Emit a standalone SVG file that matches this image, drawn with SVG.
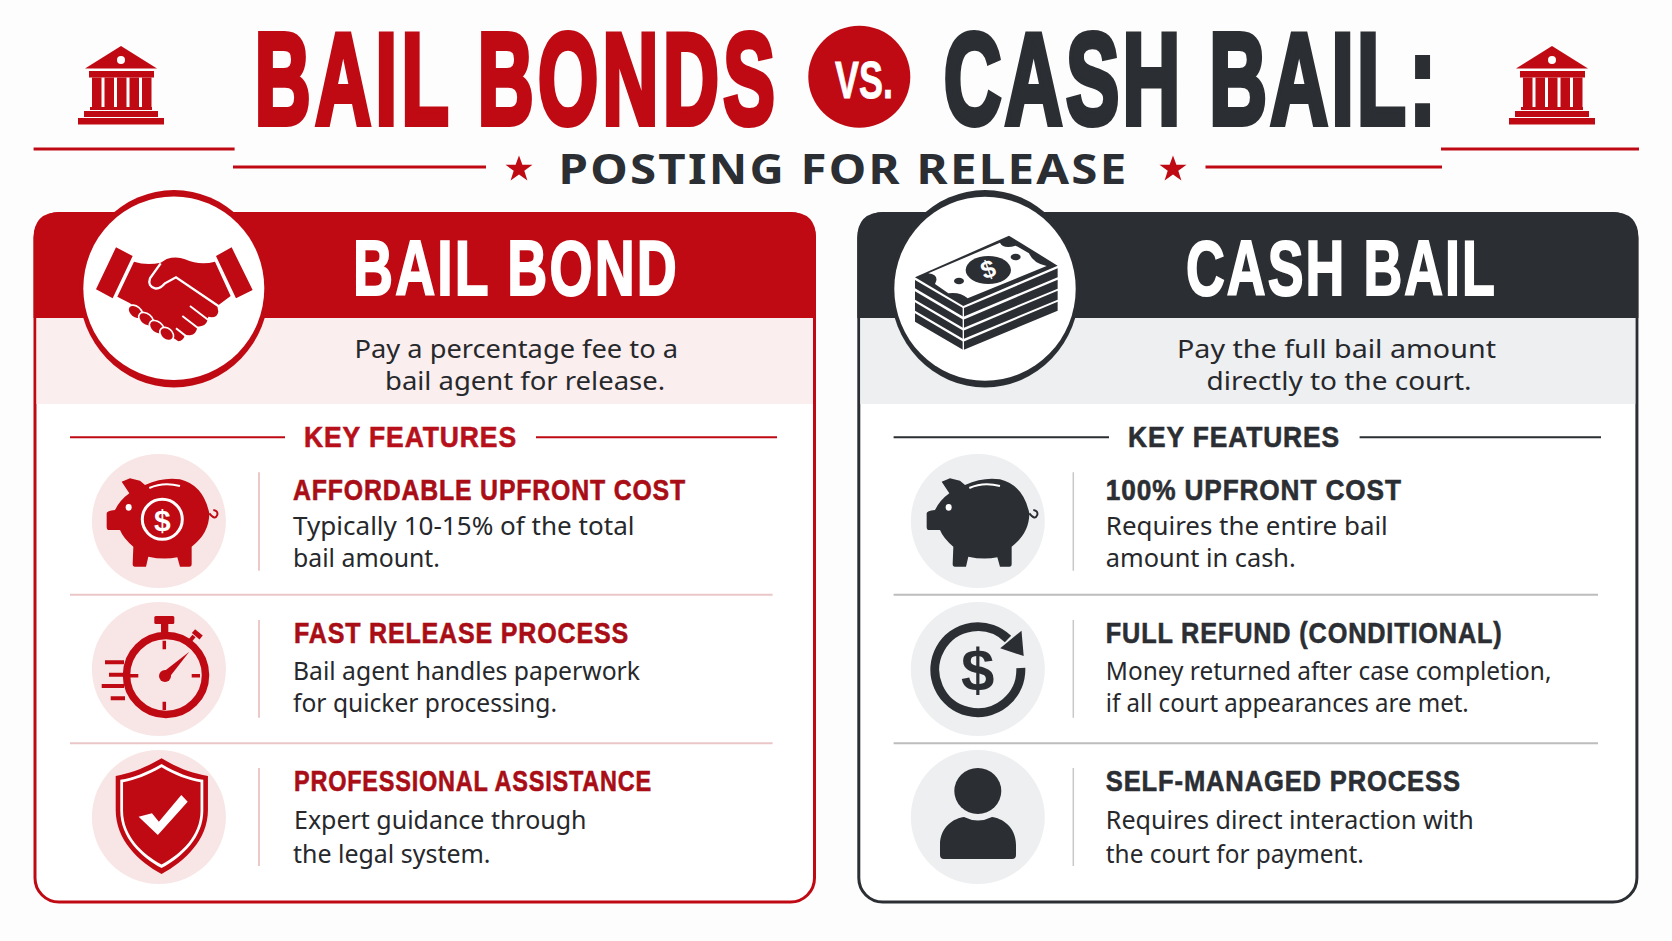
<svg xmlns="http://www.w3.org/2000/svg" width="1672" height="941" viewBox="0 0 1672 941">
<style>
.cond{font-family:"Liberation Sans Narrow","Liberation Sans",Arial,sans-serif;font-weight:700}
.body{font-family:"Noto Sans","Open Sans",sans-serif;font-size:25.5px;fill:#26282c}
.sub{font-family:"Noto Sans","Open Sans",sans-serif;font-weight:700;font-size:42px;letter-spacing:2px;fill:#2b2e33}
.h1{font-family:"Liberation Sans",Arial,sans-serif;font-weight:700;font-size:129px;stroke-width:6}
.h2{font-size:77px;letter-spacing:3px;fill:#fff;stroke:#fff;stroke-width:2}
.key{font-size:29px;letter-spacing:1px;stroke-width:.6}
.ft{font-size:30px;letter-spacing:1px;stroke-width:.6}
.red{fill:#bf0a14;stroke:#bf0a14}
.dred{fill:#a90d15;stroke:#a90d15}
.dark{fill:#2b2e33;stroke:#2b2e33}
.dollar{font-family:"Liberation Sans",Arial,sans-serif;font-weight:700;text-anchor:middle}
.rl{stroke:#bf0a14;fill:none}
.dl{stroke:#2b2e33;fill:none}
</style>
<defs>
<g id="temple">
<path d="M121,46L157,68.5H85Z"/>
<rect x="89" y="71" width="65" height="6.5"/>
<rect x="92" y="77.5" width="9.5" height="31"/><rect x="104.500" y="77.5" width="9.5" height="31"/><rect x="117" y="77.5" width="9.500" height="31"/><rect x="129.500" y="77.5" width="9.5" height="31"/><rect x="142" y="77.500" width="9.5" height="31"/>
<rect x="90" y="107" width="62" height="3"/>
<rect x="84" y="111" width="74" height="6"/>
<rect x="78" y="118" width="86" height="6.500"/>
<circle cx="121" cy="60" r="4" fill="#fff"/>
</g>
<g id="pig">
<path d="M95,95L120,85L150,92L165,105Q220,80 270,88Q340,105 358,190Q358,250 305,290L305,342Q305,350 298,350L270,350L262,322Q220,330 175,320L168,350L135,350Q128,350 128,342L130,290Q100,265 90,240L55,240Q50,240 50,232L50,190Q50,183 75,180Q90,150 118,130Z"/>
<path d="M358,190Q375,212 382,195Q385,182 370,180" fill="none" stroke="currentColor" stroke-width="6"/>
<ellipse cx="116" cy="172" rx="9" ry="10" fill="#fff"/>
<path d="M178,114Q220,95 270,108" fill="none" stroke="#fff" stroke-width="6"/>
</g>
<path id="star" d="M0,-13.500L3.400,-4.200H13.500L5.300,1.800L8.400,11.500L0,5.500L-8.400,11.500L-5.300,1.800L-13.500,-4.200H-3.400Z"/>
</defs>

<rect width="1672" height="941" fill="#fdfdfd"/>

<g id="title">
<text class="h1 red" style="letter-spacing:7.400px" transform="translate(254.800,123.700) scale(.6,1)">BAIL BONDS</text>
<circle cx="859.300" cy="76.700" r="51" fill="#bf0a14"/>
<text class="cond" x="835" y="98" font-size="52" fill="#fff" stroke="#fff" stroke-width=".8" textLength="58" lengthAdjust="spacingAndGlyphs">VS.</text>
<text class="h1 dark" style="letter-spacing:5.400px" transform="translate(943.700,123.700) scale(.62,1)">CASH BAIL:</text>
<use href="#temple" fill="#bf0a14"/>
<use href="#temple" fill="#bf0a14" transform="translate(1431,0)"/>
</g>

<g id="subtitle">
<use href="#star" fill="#bf0a14" transform="translate(519,169)"/>
<text class="sub" x="558.500" y="184.300" textLength="570" lengthAdjust="spacingAndGlyphs">POSTING FOR RELEASE</text>
<use href="#star" fill="#bf0a14" transform="translate(1173,169)"/>
</g>

<g id="connectors">
<path d="M33.600,149H234.600M233,167H486M1205.500,167H1442M1441,149H1639" stroke="#bf0a14" stroke-width="3" fill="none"/>
</g>

<g id="panel-bail-bond">
<rect x="35" y="213.500" width="779.500" height="688.500" rx="24" fill="#fff" stroke="#bf0a14" stroke-width="3"/>
<path d="M33.600,318V238Q33.600,212 60,212H790Q816,212 816,238V318Z" fill="#bf0a14"/>
<rect x="36.500" y="318" width="776.500" height="86" fill="#fbeeee"/>
<text class="cond h2" x="353" y="295" textLength="326" lengthAdjust="spacingAndGlyphs">BAIL BOND</text>
<text class="body" x="354.500" y="358" textLength="323.500" lengthAdjust="spacingAndGlyphs">Pay a percentage fee to a</text>
<text class="body" x="385" y="389.800" textLength="280" lengthAdjust="spacingAndGlyphs">bail agent for release.</text>
</g>

<g id="icon-handshake">
<ellipse cx="174" cy="288.700" rx="95" ry="98.700" fill="#bf0a14"/>
<ellipse cx="173.800" cy="288.300" rx="90.500" ry="91.700" fill="#fff"/>
<g transform="translate(70,180) scale(.3333)" fill="#bf0a14">
<path d="M138,202L188,228L128,355L78,328ZM485,202L548,330L498,355L438,228Z"/>
<path d="M192,245Q230,258 272,248L290,237Q320,228 345,238Q390,258 435,245L482,348L442,378L445,395Q442,412 425,412L415,410Q412,435 395,438L382,440Q380,462 360,466L345,465Q340,482 325,484L305,470L180,370L142,350Z"/>
<path d="M272,250L240,295Q232,318 255,325Q270,328 285,310L318,292L445,378" fill="none" stroke="#fff" stroke-width="7"/>
<path d="M360,378L415,420M337,408L385,445M318,445L350,470" fill="none" stroke="#fff" stroke-width="6"/>
<g stroke="#fff" stroke-width="5">
<ellipse cx="196" cy="396" rx="25" ry="17" transform="rotate(40 196 396)"/>
<ellipse cx="228" cy="418" rx="25" ry="17" transform="rotate(40 228 418)"/>
<ellipse cx="260" cy="442" rx="25" ry="17" transform="rotate(40 260 442)"/>
<ellipse cx="290" cy="462" rx="23" ry="17" transform="rotate(40 290 462)"/>
</g>
</g>
</g>

<g id="keyfeat-bond">
<path class="rl" d="M70,437.300H285M536,437.300H777" stroke-width="2"/>
<text class="cond key dred" style="fill:#b8101a;stroke:#b8101a" x="304" y="447.300" textLength="213" lengthAdjust="spacingAndGlyphs">KEY FEATURES</text>
<path d="M70,594.700H772.600M70,743.300H772.600" stroke="#eac6c8" stroke-width="2" fill="none"/>
<path d="M259,472.300V570.700M259,620V717.700M259,768V866" stroke="#e6b8b8" stroke-width="1.500" fill="none"/>
</g>

<g id="feature-affordable">
<circle cx="158.900" cy="521" r="67" fill="#f8e6e6"/>
<use href="#pig" fill="#bf0a14" color="#bf0a14" transform="translate(90,450) scale(.3333)"/>
<circle cx="162.300" cy="519.300" r="20" fill="#bf0a14" stroke="#fff" stroke-width="3"/>
<text class="dollar" x="162.300" y="530.500" font-size="30" fill="#fff">$</text>
<text class="cond ft dred" x="293" y="500" textLength="393" lengthAdjust="spacingAndGlyphs">AFFORDABLE UPFRONT COST</text>
<text class="body" x="293" y="535" textLength="341.500" lengthAdjust="spacingAndGlyphs">Typically 10-15% of the total</text>
<text class="body" x="293" y="566.700" textLength="147" lengthAdjust="spacingAndGlyphs">bail amount.</text>
</g>

<g id="feature-fast">
<circle cx="158.900" cy="669" r="67" fill="#f8e6e6"/>
<circle cx="166" cy="675" r="39.500" fill="none" stroke="#bf0a14" stroke-width="7.500"/>
<rect x="154.300" y="616" width="20" height="8" rx="1.500" fill="#bf0a14"/>
<rect x="161" y="624" width="7.300" height="9" fill="#bf0a14"/>
<path d="M189,642L194,636" stroke="#bf0a14" stroke-width="4" fill="none"/>
<rect x="192.300" y="631.800" width="10" height="5" fill="#bf0a14" transform="rotate(40 197.300 634.300)"/>
<path d="M164.300,640.700V649.300M164.300,701.700V710M130,675.700H138.300M191.700,675.700H200" stroke="#bf0a14" stroke-width="3.500" fill="none"/>
<path d="M189.300,651.700L168,679L162,673Z" fill="#bf0a14"/>
<circle cx="165" cy="676" r="6" fill="#bf0a14"/>
<path d="M105,662.300H124M109,674.700H124M101.700,686H124M110.700,698.300H125" stroke="#bf0a14" stroke-width="4" fill="none"/>
<text class="cond ft dred" x="294" y="643" textLength="335" lengthAdjust="spacingAndGlyphs">FAST RELEASE PROCESS</text>
<text class="body" x="293" y="680.300" textLength="347" lengthAdjust="spacingAndGlyphs">Bail agent handles paperwork</text>
<text class="body" x="293" y="712" textLength="264" lengthAdjust="spacingAndGlyphs">for quicker processing.</text>
</g>

<g id="feature-professional">
<circle cx="158.900" cy="817" r="67" fill="#f8e6e6"/>
<g transform="translate(0,420) scale(.5332,.3333)">
<path d="M303,1015C270,1045 245,1060 217,1068L217,1170C217,1260 260,1325 303,1362C346,1325 390,1260 390,1170L390,1068C360,1060 335,1045 303,1015Z" fill="#bf0a14"/>
<path d="M303,1015C270,1045 245,1060 217,1068L217,1170C217,1260 260,1325 303,1362C346,1325 390,1260 390,1170L390,1068C360,1060 335,1045 303,1015Z" fill="#fff" transform="translate(303,1185) scale(.9) translate(-303,-1185)"/>
<path d="M303,1015C270,1045 245,1060 217,1068L217,1170C217,1260 260,1325 303,1362C346,1325 390,1260 390,1170L390,1068C360,1060 335,1045 303,1015Z" fill="#bf0a14" transform="translate(303,1185) scale(.84) translate(-303,-1185)"/>
<path d="M260,1190L285,1180L298,1205L340,1125L352,1145L296,1245Z" fill="#fff"/>
</g>
<text class="cond ft dred" x="294" y="790.700" textLength="358" lengthAdjust="spacingAndGlyphs">PROFESSIONAL ASSISTANCE</text>
<text class="body" x="294" y="829.300" textLength="292.500" lengthAdjust="spacingAndGlyphs">Expert guidance through</text>
<text class="body" x="293" y="862.700" textLength="197.500" lengthAdjust="spacingAndGlyphs">the legal system.</text>
</g>

<g id="panel-cash-bail">
<rect x="858.800" y="213.500" width="778.100" height="688.500" rx="24" fill="#fff" stroke="#2b2e33" stroke-width="3"/>
<path d="M857.300,318V238Q857.300,212 884,212H1612Q1638.400,212 1638.400,238V318Z" fill="#2b2e33"/>
<rect x="860.300" y="318" width="775" height="86" fill="#eeeff1"/>
<text class="cond h2" x="1186" y="295" textLength="311" lengthAdjust="spacingAndGlyphs">CASH BAIL</text>
<text class="body" x="1177" y="358" textLength="319" lengthAdjust="spacingAndGlyphs">Pay the full bail amount</text>
<text class="body" x="1206.500" y="389.800" textLength="265" lengthAdjust="spacingAndGlyphs">directly to the court.</text>
</g>

<g id="icon-cash">
<ellipse cx="985" cy="288.700" rx="94.500" ry="98.700" fill="#2b2e33"/>
<ellipse cx="985" cy="288.800" rx="90.700" ry="92" fill="#fff"/>
<g transform="translate(885,180) scale(.3333)" fill="#2b2e33">
<path d="M372,167L518,257L235,378L90,292Z"/>
<path d="M345,188Q355,208 392,197L432,220Q445,250 485,258L248,355Q225,335 190,340L150,312Q165,285 130,280Z" fill="#fff"/>
<ellipse cx="310" cy="270" rx="68" ry="42"/>
<ellipse cx="222" cy="303" rx="15" ry="10"/>
<ellipse cx="392" cy="231" rx="15" ry="10"/>
<path d="M90,300L235,385L518,265V292L235,410L90,325Z"/>
<path d="M90,334L235,419L518,299V326L235,444L90,359Z"/>
<path d="M90,367L235,452L518,332V359L235,477L90,392Z"/>
<path d="M90,400L235,485L518,365V392L235,510L90,425Z"/>
<path d="M235,380V510" stroke="#fff" stroke-width="4"/>
</g>
<text class="dollar" x="988" y="278" font-size="25" fill="#fff" transform="rotate(-20 988 269)">$</text>
</g>

<g id="keyfeat-cash">
<path class="dl" d="M893.600,437.300H1109M1359.600,437.300H1601" stroke-width="2"/>
<text class="cond key dark" x="1128" y="447.300" textLength="212" lengthAdjust="spacingAndGlyphs">KEY FEATURES</text>
<path d="M893.600,594.700H1598M893.600,743.300H1598" stroke="#bdbdbf" stroke-width="2" fill="none"/>
<path d="M1073.300,472.300V570.700M1073.300,620V717.700M1073.300,768V866" stroke="#c8c8c8" stroke-width="1.500" fill="none"/>
</g>

<g id="feature-upfront">
<circle cx="977.800" cy="521" r="67" fill="#eeeff1"/>
<use href="#pig" fill="#2b2e33" color="#2b2e33" transform="translate(910,450) scale(.3333)"/>
<text class="cond ft dark" x="1105.800" y="500" textLength="296" lengthAdjust="spacingAndGlyphs">100% UPFRONT COST</text>
<text class="body" x="1105.800" y="535" textLength="282" lengthAdjust="spacingAndGlyphs">Requires the entire bail</text>
<text class="body" x="1105.800" y="566.700" textLength="190" lengthAdjust="spacingAndGlyphs">amount in cash.</text>
</g>

<g id="feature-refund">
<circle cx="977.800" cy="669" r="67" fill="#eeeff1"/>
<path d="M1008,639A43,43 0 1 0 1020.800,668" fill="none" stroke="#2b2e33" stroke-width="9"/>
<path d="M1021.500,630.700L1023.700,656L1000.200,648.300Z" fill="#2b2e33"/>
<text class="dollar" x="977.800" y="690.600" font-size="60" fill="#2b2e33">$</text>
<text class="cond ft dark" x="1105.800" y="643" textLength="396.700" lengthAdjust="spacingAndGlyphs">FULL REFUND (CONDITIONAL)</text>
<text class="body" x="1105.800" y="680.300" textLength="445.700" lengthAdjust="spacingAndGlyphs">Money returned after case completion,</text>
<text class="body" x="1105.800" y="712" textLength="363" lengthAdjust="spacingAndGlyphs">if all court appearances are met.</text>
</g>

<g id="feature-self">
<circle cx="977.800" cy="817" r="67" fill="#eeeff1"/>
<ellipse cx="977.800" cy="791" rx="23.500" ry="23" fill="#2b2e33"/>
<path d="M944,859Q940,859 940,855V845C940,826 955,818 964,817Q978,824 992,817C1001,818 1016,826 1016,845V855Q1016,859 1012,859Z" fill="#2b2e33"/>
<text class="cond ft dark" x="1105.800" y="790.700" textLength="355" lengthAdjust="spacingAndGlyphs">SELF-MANAGED PROCESS</text>
<text class="body" x="1105.800" y="829.300" textLength="368" lengthAdjust="spacingAndGlyphs">Requires direct interaction with</text>
<text class="body" x="1105.800" y="862.700" textLength="258" lengthAdjust="spacingAndGlyphs">the court for payment.</text>
</g>
</svg>
